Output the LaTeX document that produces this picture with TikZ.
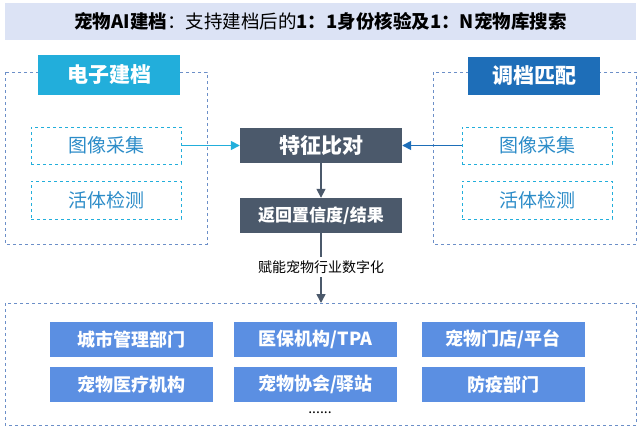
\documentclass[tikz,border=0pt]{standalone}
\usepackage{fontspec}
\setmainfont{Noto Sans CJK SC}
\usetikzlibrary{arrows.meta}
\definecolor{cyanh}{HTML}{22AEDB}
\definecolor{blueh}{HTML}{1E6EB8}
\definecolor{slate}{HTML}{4B596B}
\definecolor{bbox}{HTML}{5B8FE2}
\definecolor{ttl}{HTML}{DCE3F5}
\definecolor{dash}{HTML}{6C8FC8}
\definecolor{itxt}{HTML}{2C8CC8}
\begin{document}
\begin{tikzpicture}[x=1pt,y=-1pt,
 outer/.style={draw=dash,dashed,line width=0.7pt},
 inner/.style={draw=cyanh,dashed,line width=0.7pt,text=itxt,font=\fontsize{19}{19}\selectfont},
 head/.style={text=white,font=\bfseries\fontsize{21}{21}\selectfont},
 dark/.style={fill=slate,text=white,font=\bfseries\fontsize{17}{17}\selectfont},
 blk/.style={fill=bbox,text=white,font=\bfseries\fontsize{18}{18}\selectfont},
 arr/.style={-{Triangle[length=9pt,width=9pt]},line width=1.6pt}]
\useasboundingbox (0,0) rectangle (641,431);
\fill[ttl] (5,3) rectangle (636,40);
\node (title) at (320.5,21.5) {\fontsize{18.5}{18.5}\selectfont\textbf{宠物AI建档}：支持建档后的\textbf{1：1身份核验及1：N宠物库搜索}};
\draw[outer] (5,72) rectangle (207,244);
\draw[outer] (433,72) rectangle (636,244);
\draw[outer] (5,303) rectangle (636,425);
\fill[cyanh] (38,55) rectangle (180,95);
\node[head] (lh) at (109,75) {电子建档};
\fill[blueh] (468,57) rectangle (600,95);
\node[head] (rh) at (534,76) {调档匹配};
\node[inner,minimum width=150pt,minimum height=37pt] (l1) at (106,145.5) {图像采集};
\node[inner,minimum width=150pt,minimum height=38pt] (l2) at (106,200) {活体检测};
\node[inner,minimum width=150pt,minimum height=37pt] (r1) at (537,145.5) {图像采集};
\node[inner,minimum width=150pt,minimum height=38pt] (r2) at (537,200) {活体检测};
\node[dark,minimum width=162pt,minimum height=35pt,font=\bfseries\fontsize{21}{21}\selectfont] (cmp) at (321,145.5) {特征比对};
\node[dark,minimum width=162pt,minimum height=35pt] (res) at (321,215.5) {返回置信度/结果};
\draw[arr,cyanh] (l1) -- (cmp);
\draw[arr,blueh] (r1) -- (cmp);
\draw[arr,slate] (cmp) -- (res);
\node[font=\fontsize{14}{14}\selectfont] (lab) at (321,267) {赋能宠物行业数字化};
\coordinate (bt) at (321,303);
\draw[slate,line width=1.6pt] (res) -- (lab.north);
\draw[arr,slate] (lab.south) -- (bt);
\foreach \n/\x/\y/\t in {a/131.5/339.5/{城市管理部门},b/315.5/339.5/{医保机构/TPA},c/503/339.5/{宠物门店/平台},d/131.5/384.5/{宠物医疗机构},e/315.5/384.5/{宠物协会/驿站},f/503/384.5/{防疫部门}}
  \node[blk,minimum width=163pt,minimum height=35pt] (\n) at (\x,\y) {\t};
\node[font=\fontsize{14}{14}\selectfont] (dots) at (320,413) {......};
\end{tikzpicture}
\end{document}
